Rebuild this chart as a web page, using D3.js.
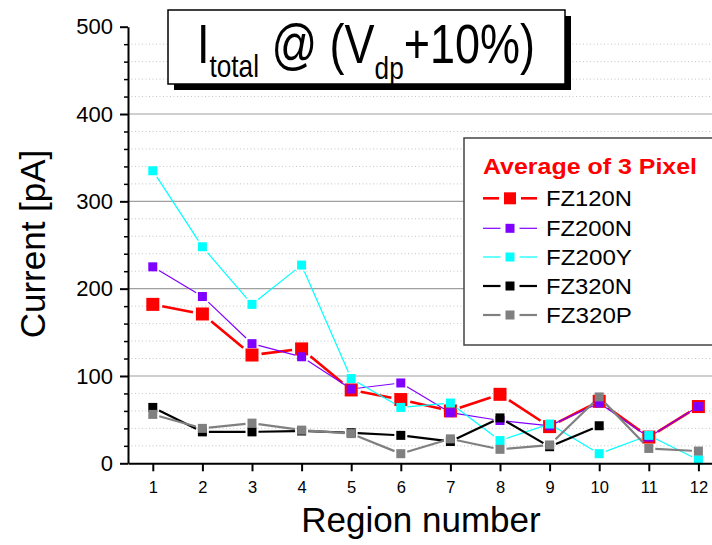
<!DOCTYPE html>
<html>
<head>
<meta charset="utf-8">
<script src="https://cdn.jsdelivr.net/npm/d3@7"></script>
<style>
  body { margin: 0; background: #fff; }
  svg { display: block; font-family: "Liberation Sans", Arial, sans-serif; }
</style>
</head>
<body>
<svg id="chart" width="712" height="545"></svg>
<script>
// Region numbers along the x axis
const regions = [1, 2, 3, 4, 5, 6, 7, 8, 9, 10, 11, 12];

// Total current at (Vdp + 10%), averaged over 3 pixels, in pA
const fz120n = [182, 171, 124, 131, 84, 73, 60, 79, 42, 71, 30, 65];
const fz200n = [225, 191, 137, 122, 85, 92, 58, 49, 43, 69, 30, 65];
const fz200y = [335, 248, 182, 227, 97, 64, 69, 26, 45, 11, 32, 4];
const fz320n = [64, 36, 36, 37, 35, 32, 25, 52, 19, 43, null, null];
const fz320p = [56, 40, 46, 38, 34, 11, 28, 16, 21, 76, 17, 14];

const seriesNames = ["FZ120N", "FZ200N", "FZ200Y", "FZ320N", "FZ320P"];
const yMajorTicks = [0, 100, 200, 300, 400, 500];

const series = [
  { name: seriesNames[0], values: fz120n, color: "#ff0000", width: 2.6, size: 13, gap: 3 },
  { name: seriesNames[1], values: fz200n, color: "#8000ff", width: 1.2, size: 9, gap: 2 },
  { name: seriesNames[2], values: fz200y, color: "#00ffff", width: 1.2, size: 9, gap: 2 },
  { name: seriesNames[3], values: fz320n, color: "#000000", width: 2.2, size: 9, gap: 2 },
  { name: seriesNames[4], values: fz320p, color: "#808080", width: 2.2, size: 9, gap: 2 }
];

const svg = d3.select("#chart");
const W = 712;
const plotLeft = 128, plotBottom = 463.3, plotTop = 26.7, step = 49.6;

const x = d3.scaleLinear().domain([0.5, 12.5]).range([plotLeft, plotLeft + 12 * step]);
const y = d3.scaleLinear().domain([0, 500]).range([plotBottom, plotTop]);

// Grid: solid lines at the hundreds, dotted lines every 20 pA
const gridVals = d3.range(20, 500, 20);
svg.append("g").selectAll("line").data(gridVals).join("line")
  .attr("x1", plotLeft).attr("x2", W)
  .attr("y1", d => y(d)).attr("y2", d => y(d))
  .attr("stroke", d => d % 100 === 0 ? "#a0a0a0" : "#c4c4c4")
  .attr("stroke-width", d => d % 100 === 0 ? 1.2 : 1)
  .attr("stroke-dasharray", d => d % 100 === 0 ? null : "1,2.5");

// Series: trimmed line segments, then square symbols
series.forEach(s => {
  const g = svg.append("g");
  const pts = s.values.map((v, i) => v == null ? null : [x(regions[i]), y(v)]);
  const segs = [];
  for (let i = 0; i < pts.length - 1; i++) {
    const a = pts[i], b = pts[i + 1];
    if (!a || !b) continue;
    const dx = b[0] - a[0], dy = b[1] - a[1];
    const len = Math.hypot(dx, dy);
    const ux = dx / len, uy = dy / len;
    // trim so the segment stops short of the square
    const ta = s.size / 2 / Math.max(Math.abs(ux), Math.abs(uy)) + s.gap;
    if (len <= 2 * ta) continue;
    segs.push([a[0] + ux * ta, a[1] + uy * ta, b[0] - ux * ta, b[1] - uy * ta]);
  }
  g.selectAll("line").data(segs).join("line")
    .attr("x1", d => d[0]).attr("y1", d => d[1])
    .attr("x2", d => d[2]).attr("y2", d => d[3])
    .attr("stroke", s.color).attr("stroke-width", s.width);
  g.selectAll("rect").data(pts.filter(p => p)).join("rect")
    .attr("x", d => d[0] - s.size / 2).attr("y", d => d[1] - s.size / 2)
    .attr("width", s.size).attr("height", s.size)
    .attr("fill", s.color);
});

// Axes
const xAxis = svg.append("g").attr("transform", `translate(0,${plotBottom})`)
  .call(d3.axisBottom(x).tickValues(regions).tickSize(8).tickSizeOuter(0).tickPadding(10.3));
xAxis.select(".domain").attr("stroke-width", 2);
xAxis.selectAll(".tick line").attr("stroke-width", 2);
xAxis.selectAll("text").attr("font-size", 16.5).attr("font-family", "Liberation Sans, Arial, sans-serif");

const yMinor = svg.append("g").attr("transform", `translate(${plotLeft},0)`)
  .call(d3.axisLeft(y).tickValues(d3.range(20, 500, 20).filter(v => v % 100 !== 0))
    .tickSize(4).tickSizeOuter(0).tickFormat(""));
yMinor.select(".domain").remove();
yMinor.selectAll(".tick line").attr("stroke-width", 1.5);

const yAxis = svg.append("g").attr("transform", `translate(${plotLeft},0)`)
  .call(d3.axisLeft(y).tickValues(yMajorTicks).tickSize(8).tickSizeOuter(0).tickPadding(7));
yAxis.select(".domain").attr("stroke-width", 2);
yAxis.selectAll(".tick line").attr("stroke-width", 2);
yAxis.selectAll("text").attr("font-size", 22).attr("font-family", "Liberation Sans, Arial, sans-serif");

// Axis titles
svg.append("text").attr("x", 421).attr("y", 532).attr("text-anchor", "middle")
  .attr("font-size", 35).text("Region number");
svg.append("text").attr("transform", "translate(45,244) rotate(-90)").attr("text-anchor", "middle")
  .attr("font-size", 35).text("Current [pA]");

// Title box with drop shadow
const tb = { x: 168, y: 10, w: 397, h: 74 };
svg.append("rect").attr("x", tb.x + 6).attr("y", tb.y + 6).attr("width", tb.w).attr("height", tb.h).attr("fill", "#000");
svg.append("rect").attr("x", tb.x).attr("y", tb.y).attr("width", tb.w).attr("height", tb.h)
  .attr("fill", "#fff").attr("stroke", "#000").attr("stroke-width", 1.5);
const tt = svg.append("text").attr("font-size", 55).style("white-space", "pre");
tt.append("tspan").text("I");
tt.append("tspan").attr("font-size", 32).attr("dy", 14).text("total");
tt.append("tspan").attr("dy", -14).text(" @ (V");
tt.append("tspan").attr("font-size", 32).attr("dy", 16).text("dp");
tt.append("tspan").attr("dy", -16).text("+10%)");
const tbb = tt.node().getBBox();
tt.attr("transform", `translate(197,63) scale(${338 / tbb.width},1)`);

// Legend
const lg = svg.append("g");
lg.append("rect").attr("x", 464).attr("y", 138).attr("width", 262).attr("height", 207)
  .attr("fill", "#fff").attr("stroke", "#444").attr("stroke-width", 1.5);
lg.append("text").attr("x", 483).attr("y", 174).attr("fill", "#ff0000")
  .attr("font-weight", "bold").attr("font-size", 22)
  .attr("textLength", 214).attr("lengthAdjust", "spacingAndGlyphs").text("Average of 3 Pixel");
const rowY = [198.3, 228.3, 257, 286, 315];
series.forEach((s, i) => {
  const cy = rowY[i], cx = 510, hs = s.size === 13 ? 6 : 4.5;
  lg.append("line").attr("x1", 483).attr("x2", cx - hs - 5).attr("y1", cy).attr("y2", cy)
    .attr("stroke", s.color).attr("stroke-width", s.width);
  lg.append("line").attr("x1", cx + hs + 5).attr("x2", 537).attr("y1", cy).attr("y2", cy)
    .attr("stroke", s.color).attr("stroke-width", s.width);
  lg.append("rect").attr("x", cx - hs).attr("y", cy - hs).attr("width", 2 * hs).attr("height", 2 * hs)
    .attr("fill", s.color);
  lg.append("text").attr("x", 546).attr("y", cy + 7.5).attr("font-size", 22)
    .attr("textLength", 86).attr("lengthAdjust", "spacingAndGlyphs").text(s.name);
});
</script>
</body>
</html>
